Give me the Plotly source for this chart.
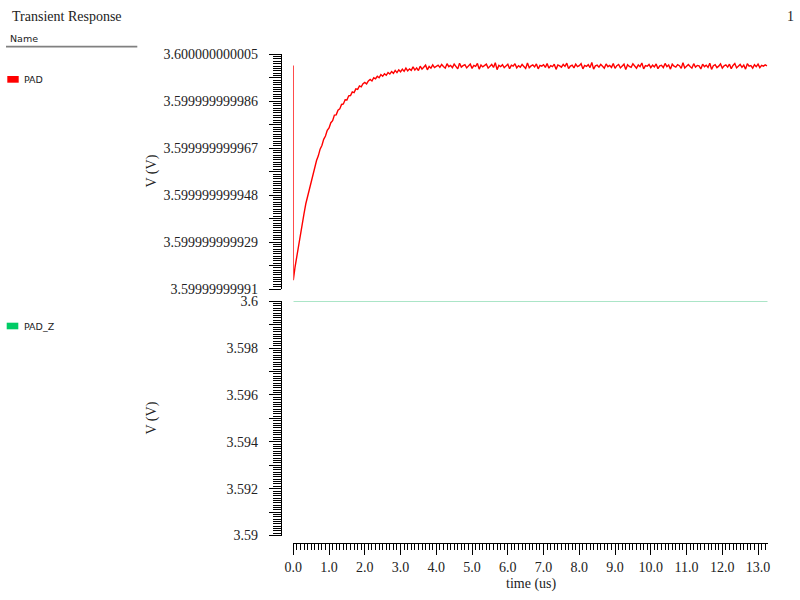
import plotly.graph_objects as go

# ---------------- data ----------------
# PAD: transient response, offsets from 3.6 V in pico-volts
pad_t_start = [0.0, 0.0]
pad_d_start = [0.5, -86.4]
pad_t0 = 0.05
pad_dt = 0.05
pad_d = [
    -81.0, -76.4, -71.5, -67.4, -62.9, -59.5, -55.5, -52.6, -48.8, -46.3,
    -43.0, -40.9, -38.0, -36.1, -33.4, -31.9, -29.4, -28.1, -25.8, -24.8,
    -22.7, -21.9, -19.6, -19.5, -17.6, -17.1, -15.3, -15.1, -13.4, -13.5,
    -11.8, -11.7, -10.2, -10.5, -9.0, -9.2, -7.8, -8.2, -6.9,
    -6.4, -7.0, -5.8, -5.2, -5.8, -4.5, -4.9, -3.9, -4.5, -3.2,
    -3.9, -2.9, -3.5, -2.4, -3.0, -2.0, -2.7, -1.5, -2.4, -1.3,
    -2.1, -1.0, -1.9, -0.6, -1.7, -0.9, -1.5, -0.1, -1.4, -0.5,
    -1.6, 0.2, -1.0, -0.2, 0.6, -1.3, 0.1, -0.6, 0.7, -0.4, 0.0,
    0.6, -0.3, 0.9, 0.1, -0.6, 1.2, 0.0, 0.5, -0.4, 1.0, 0.2, -0.9, 1.4, -0.2, 0.4, 0.8, -0.5, 0.3, 1.1, -0.7,
    0.5, 0.1, 1.3, -1.0, 0.7, -0.1, 0.4, 1.0, -0.6, 0.2, 0.9, -0.3, 1.6, -1.2, 0.5, 0.0, 0.8, -0.4, 0.3, 1.0,
    -0.8, 0.6, 0.2, 1.2, -0.5, 0.4, -0.2, 0.9, 0.1, -0.7, 1.5, -0.4, 0.3, 0.7, -0.1, 1.1, -0.9, 0.5, 0.2, 0.8,
    -0.3, 1.3, -0.6, 0.4, 0.0, 1.0, -1.1, 0.7, 0.3, -0.2, 0.9, 0.1, 1.4, -0.8, 0.2, 0.6, -0.5, 1.0, 0.0, 0.4,
    1.2, -0.9, 0.5, 0.1, 0.8, -0.4, 1.7, -1.0, 0.3, 0.6, -0.2, 0.9, 0.2, -0.6, 1.1, 0.0, 0.5, -0.3, 1.3, -0.7,
    0.4, 0.9, -0.5, 0.2, 1.0, -1.2, 0.8, 0.1, -0.3, 1.2, 0.3, -0.6, 0.7, 0.0, 1.5, -0.9, 0.4, 0.2, 0.9, -0.4,
    0.6, -0.1, 1.1, -0.8, 0.3, 0.5, -0.4, 1.3, 0.0, 0.7, -1.0, 1.0, 0.2, -0.2, 0.8, 0.4, -0.7, 1.6, -0.5, 0.3,
    0.9, 0.1, -0.6, 1.2, -0.2, 0.5, 0.3, -0.9, 1.0, 0.0, 0.6, -0.3, 1.4, -1.1, 0.4, 0.8, -0.4, 0.2, 1.1, -0.6,
    0.3, 0.7, -0.2, 1.0, -0.8, 0.5, 1.3, -0.5, 0.1, 0.9, -0.3, 0.6, -1.0, 1.2, 0.2, 0.4, -0.6, 0.8, 0.0, 1.0,
    -0.4, 0.5, 0.2, 0.7, 0.3,
]
pad_v_ref = 3.6

# PAD_Z: flat at 3.6 V
padz_t = [0.0, 13.27]
padz_v = [3.6, 3.6]

x_range = [0.0, 13.27]
x_tickvals = list(range(0, 14))
x_ticktext = ["0.0", "1.0", "2.0", "3.0", "4.0", "5.0", "6.0", "7.0", "8.0",
              "9.0", "10.0", "11.0", "12.0", "13.0"]

y1_range = [3.59999999991, 3.600000000005]
y1_labels = ["3.59999999991", "3.599999999929", "3.599999999948",
             "3.599999999967", "3.599999999986", "3.600000000005"]
y1_step = 19e-12

y2_range = [3.59, 3.6]
y2_labels = ["3.59", "3.592", "3.594", "3.596", "3.598", "3.6"]
y2_step = 0.002

# ---------------- build ----------------
pad_t = pad_t_start + [pad_t0 + i * pad_dt for i in range(len(pad_d))]
pad_v = [pad_v_ref + d * 1e-12 for d in (pad_d_start + pad_d)]


def px(x):
    return x / 800.0


def py(y):
    return 1 - y / 600.0


def half_ticks(lo, step, labels):
    vals, texts = [], []
    for i, lab in enumerate(labels):
        vals.append(lo + i * step)
        texts.append(lab)
        if i < len(labels) - 1:
            vals.append(lo + (i + 0.5) * step)
            texts.append("")
    return vals, texts


y1_vals, y1_text = half_ticks(y1_range[0], y1_step, y1_labels)
y2_vals, y2_text = half_ticks(y2_range[0], y2_step, y2_labels)

tickfont = dict(family="Liberation Serif", size=14, color="#222")

fig = go.Figure()
fig.add_trace(go.Scatter(x=pad_t, y=pad_v, mode="lines", name="PAD",
                         line=dict(color="#ff0000", width=1.4),
                         xaxis="x", yaxis="y"))
fig.add_trace(go.Scatter(x=padz_t, y=padz_v, mode="lines", name="PAD_Z",
                         line=dict(color="#8fdcb5", width=1.5),
                         cliponaxis=False, xaxis="x", yaxis="y2"))

common_y = dict(anchor="free", position=px(280.7), showline=True, automargin=False,
                linecolor="black", linewidth=1, ticks="outside", ticklen=12,
                tickwidth=1, tickcolor="black", showgrid=False, zeroline=False,
                tickmode="array", tickfont=tickfont, ticklabelstandoff=8)

fig.update_layout(
    width=800, height=600,
    margin=dict(l=0, r=0, t=0, b=0, pad=0, autoexpand=False),
    paper_bgcolor="white", plot_bgcolor="white",
    showlegend=False,
    xaxis=dict(domain=[px(293.3), px(767.7)], range=x_range, automargin=False,
               anchor="free", position=py(543.3), showline=True,
               linecolor="black", linewidth=1, ticks="outside", ticklen=11,
               tickwidth=1, tickcolor="black", showgrid=False, zeroline=False,
               tickmode="array", tickvals=x_tickvals, ticktext=x_ticktext,
               tickfont=tickfont, ticklabelstandoff=0,
               minor=dict(ticks="outside", ticklen=6, tickmode="linear",
                          tick0=0, dtick=0.1, tickcolor="black", showgrid=False)),
    yaxis=dict(domain=[py(289.0), py(54.3)], range=y1_range,
               tickvals=y1_vals, ticktext=y1_text,
               minor=dict(ticks="outside", ticklen=8, tickmode="linear",
                          tick0=y1_range[0], dtick=y1_step / 20,
                          tickcolor="black", showgrid=False),
               **common_y),
    yaxis2=dict(domain=[py(535.5), py(301.3)], range=y2_range,
                tickvals=y2_vals, ticktext=y2_text,
                minor=dict(ticks="outside", ticklen=8, tickmode="linear",
                           tick0=y2_range[0], dtick=y2_step / 20,
                           tickcolor="black", showgrid=False),
                **common_y),
)

serif = dict(family="Liberation Serif", size=14, color="#222")
sans = dict(family="DejaVu Sans", size=9.5, color="#222")

ann = [
    dict(x=px(10), y=py(17), text="Transient Response", xanchor="left", yanchor="middle", font=serif),
    dict(x=px(796), y=py(17), text="1", xanchor="right", yanchor="middle", font=serif),
    dict(x=px(8), y=py(38), text="Name", xanchor="left", yanchor="middle", font=sans),
    dict(x=px(22), y=py(79.3), text="PAD", xanchor="left", yanchor="middle", font=sans),
    dict(x=px(22), y=py(326), text="PAD_Z", xanchor="left", yanchor="middle", font=sans),
    dict(x=px(151), y=py(171.5), text="V (V)", textangle=-90, xanchor="center", yanchor="middle", font=serif),
    dict(x=px(151), y=py(418.5), text="V (V)", textangle=-90, xanchor="center", yanchor="middle", font=serif),
    dict(x=px(530.5), y=py(583.5), text="time (us)", xanchor="center", yanchor="middle", font=serif),
]
for a in ann:
    a.update(xref="paper", yref="paper", showarrow=False)
fig.update_layout(annotations=ann)

shapes = [
    dict(type="line", x0=px(6), x1=px(137.3), y0=py(46.7), y1=py(46.7),
         line=dict(color="#808080", width=1.7)),
    dict(type="rect", x0=px(7.3), x1=px(18.7), y0=py(82.7), y1=py(76),
         fillcolor="#ff0000", line=dict(width=0)),
    dict(type="rect", x0=px(6.7), x1=px(18.3), y0=py(329.3), y1=py(322.7),
         fillcolor="#00cc66", line=dict(width=0)),
]
for s in shapes:
    s.update(xref="paper", yref="paper")
fig.update_layout(shapes=shapes)

fig.write_html("out.html", config={"displayModeBar": False},
               post_script="document.body.style.margin='0';document.body.style.overflow='hidden';")
